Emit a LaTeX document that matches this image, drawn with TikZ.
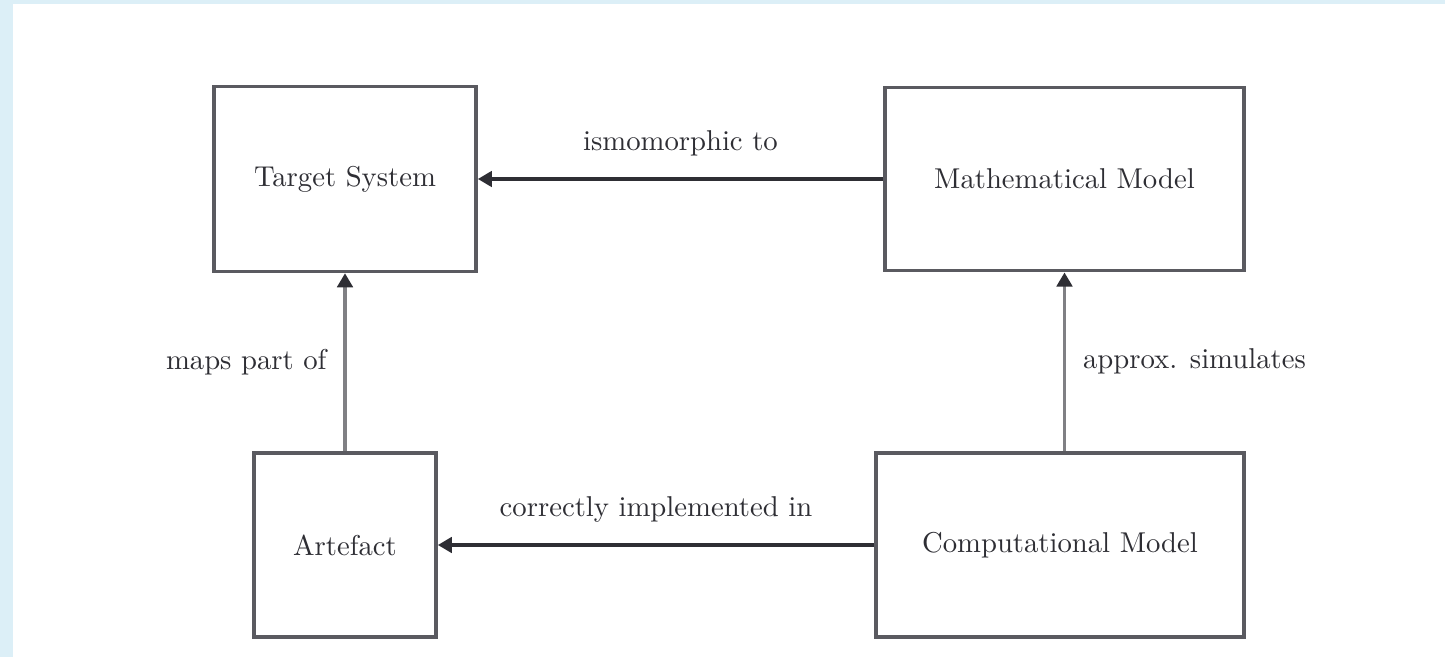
\documentclass[tikz,border=0pt]{standalone}
\usetikzlibrary{arrows.meta}
\definecolor{bgblue}{HTML}{DCEFF7}
\definecolor{boxgray}{HTML}{5A5A60}
\definecolor{linegray}{HTML}{808084}
\definecolor{inkdark}{HTML}{2E2E34}
\begin{document}
\begin{tikzpicture}[x=0.0125cm,y=-0.0125cm,
    box/.style={draw=boxgray,line width=1.3pt,fill=white,text=inkdark,
      font=\fontsize{10.2}{12}\selectfont,inner sep=0pt},
    rel/.style={line width=1.2pt,-{Triangle[width=5.5pt,length=5pt,color=inkdark]}},
    lbl/.style={text=inkdark,font=\fontsize{10.2}{12}\selectfont,inner sep=0pt}]
    \fill[bgblue] (0,0) rectangle (1445,657);
    \fill[white] (13,4) rectangle (1445,657);
    \useasboundingbox (0,0) rectangle (1445,657);
    % the four boxes
    \node[box,minimum width=3.275cm,minimum height=2.31cm] (target) at (345,179) {Target System};
    \node[box,minimum width=4.49cm,minimum height=2.29cm] (math) at (1064.5,179) {Mathematical Model};
    \node[box,minimum width=2.275cm,minimum height=2.3cm] (artefact) at (345,545) {Artefact};
    \node[box,minimum width=4.6cm,minimum height=2.3cm] (comp) at (1060,545) {Computational Model};
    % relations
    \draw[rel,inkdark] (math.west) -- node[lbl,above=7.5pt]{ismomorphic to} (target.east);
    \draw[rel,linegray] (artefact.north) -- node[lbl,left=6pt]{maps part of} (target.south);
    \draw[rel,linegray] (comp.north -| math.south) -- node[lbl,right=6pt]{approx. simulates} (math.south);
    \draw[rel,inkdark] (comp.west) -- node[lbl,above=7.5pt]{correctly implemented in} (artefact.east);
\end{tikzpicture}
\end{document}
